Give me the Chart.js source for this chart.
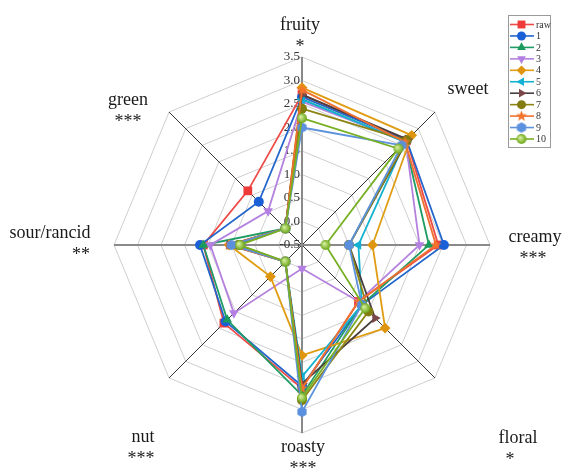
<!DOCTYPE html>
<html>
<head>
<meta charset="utf-8">
<script src="https://cdn.jsdelivr.net/npm/chart.js@4/dist/chart.umd.min.js"></script>
<style>
  html, body { margin: 0; padding: 0; background: #fff; }
  #wrap { width: 563px; height: 475px; position: relative; }
</style>
</head>
<body>
<div id="wrap"><canvas id="c" width="563" height="475"></canvas></div>
<script>
// Sensory attributes (radar axes) and their significance marks
const attributes = ['fruity', 'sweet', 'creamy', 'floral', 'roasty', 'nut', 'sour/rancid', 'green'];
const significance = ['*', '', '***', '*', '***', '***', '**', '***'];

// Sample names
const seriesNames = ['raw', '1', '2', '3', '4', '5', '6', '7', '8', '9', '10'];

// Intensity scores, one value per attribute in the order above
const raw = [2.70, 2.65, 2.40, 1.20, 2.55, 1.85, 1.60, 1.13];
const s1  = [2.65, 2.65, 2.52, 1.30, 2.50, 1.80, 1.67, 0.80];
const s2  = [2.60, 2.60, 2.20, 1.30, 2.70, 1.75, 1.60, 0.00];
const s3  = [2.55, 2.62, 2.00, 1.20, 0.00, 1.55, 1.45, 0.52];
const s4  = [2.85, 2.80, 1.00, 2.00, 1.85, 0.45, 1.05, 0.00];
const s5  = [2.60, 2.60, 0.70, 1.30, 2.30, 0.00, 0.95, 0.00];
const s6  = [2.70, 2.68, 0.50, 1.70, 2.45, 0.00, 1.05, 0.00];
const s7  = [2.40, 2.65, 0.50, 1.50, 2.80, 0.00, 0.85, 0.00];
const s8  = [2.80, 2.60, 2.35, 1.20, 2.55, 0.00, 1.05, 0.00];
const s9  = [2.00, 2.50, 0.50, 1.30, 3.05, 0.00, 1.00, 0.00];
const s10 = [2.20, 2.40, 0.00, 1.40, 2.75, 0.00, 0.82, 0.00];

// Radial axis range and tick labels
const scaleMin = -0.5;
const scaleMax = 3.5;
const tickLabels = ['-0.5', '0.0', '0.5', '1.0', '1.5', '2.0', '2.5', '3.0', '3.5'];

const seriesValues = [raw, s1, s2, s3, s4, s5, s6, s7, s8, s9, s10];

// ---- marker shapes drawn on small canvases ----
function shapeCanvas(draw, size) {
  const cv = document.createElement('canvas');
  cv.width = size; cv.height = size;
  const g = cv.getContext('2d');
  draw(g, size / 2);
  return cv;
}
function starMarker(color) {
  return shapeCanvas((g, c) => {
    g.beginPath();
    for (let k = 0; k < 10; k++) {
      const r = k % 2 ? 2.4 : 5.8;
      const a = -Math.PI / 2 + k * Math.PI / 5;
      g.lineTo(c + r * Math.cos(a), c + r * Math.sin(a));
    }
    g.closePath();
    g.fillStyle = color; g.fill();
  }, 13);
}
function hexMarker(color) {
  return shapeCanvas((g, c) => {
    g.beginPath();
    for (let k = 0; k < 6; k++) {
      const a = k * Math.PI / 3 + Math.PI / 6;
      g.lineTo(c + 5.3 * Math.cos(a), c + 5.3 * Math.sin(a));
    }
    g.closePath();
    g.fillStyle = color; g.fill();
  }, 12);
}
function ballMarker(color, light) {
  return shapeCanvas((g, c) => {
    const grad = g.createRadialGradient(c - 1.5, c - 1.5, 0.5, c, c, 5);
    grad.addColorStop(0, light);
    grad.addColorStop(1, color);
    g.beginPath(); g.arc(c, c, 4.9, 0, Math.PI * 2);
    g.fillStyle = grad; g.fill();
  }, 12);
}

// Line colour, marker colour, marker style, marker rotation per sample
const styles = [
  { line: '#ef4a45', mark: '#ef3a3a', style: 'rect', rot: 0, r: 6.2 },
  { line: '#2266cc', mark: '#1a5fd6', style: 'circle', rot: 0, r: 5 },
  { line: '#1f9c64', mark: '#1a9a5c', style: 'triangle', rot: 0, r: 5.6 },
  { line: '#b482de', mark: '#b47fe2', style: 'triangle', rot: 180, r: 5.6 },
  { line: '#e09c12', mark: '#e0950e', style: 'rectRot', rot: 0, r: 5.4 },
  { line: '#13b2cf', mark: '#12b0d2', style: 'triangle', rot: -90, r: 5.6 },
  { line: '#4a3d3d', mark: '#7a4848', style: 'triangle', rot: 90, r: 5.6 },
  { line: '#8c8414', mark: '#837c10', style: 'circle', rot: 0, r: 5 },
  { line: '#f07030', mark: starMarker('#f4742c'), style: null, rot: 0, r: 5 },
  { line: '#5c92dc', mark: hexMarker('#5a90dd'), style: null, rot: 0, r: 5 },
  { line: '#78b024', mark: ballMarker('#68a414', '#d8f0a0'), style: null, rot: 0, r: 5 }
];

const datasets = seriesValues.map((vals, i) => {
  const st = styles[i];
  const isImg = st.style === null;
  return {
    label: seriesNames[i],
    data: vals,
    order: seriesValues.length - i,   // later samples are drawn on top
    borderColor: st.line,
    backgroundColor: isImg ? st.line : st.mark,
    borderWidth: 1.8,
    pointStyle: isImg ? st.mark : st.style,
    pointRotation: st.rot,
    pointRadius: st.r,
    pointHoverRadius: st.r,
    pointBorderWidth: 0,
    pointBackgroundColor: isImg ? st.line : st.mark,
    fill: false
  };
});

const serif = '"Liberation Serif", "DejaVu Serif", serif';

// Tick values along the vertical axis, drawn to its left
const tickPlugin = {
  id: 'sideTicks',
  beforeDatasetsDraw(chart) {
    const sc = chart.scales.r;
    const ctx = chart.ctx;
    ctx.save();
    ctx.font = '13px ' + serif;
    ctx.fillStyle = '#333';
    ctx.textAlign = 'right';
    ctx.textBaseline = 'middle';
    tickLabels.forEach(t => {
      const v = parseFloat(t);
      const d = sc.getDistanceFromCenterForValue(v);
      ctx.fillText(t, sc.xCenter - 2, sc.yCenter - d);
    });
    ctx.restore();
  }
};

// Attribute names with significance marks; offsets are relative to each outer vertex
const labelLayout = [
  { dx: -2, dy: -32, starAlign: 'center', sdx: 0 },
  { dx: 33, dy: -23, starAlign: 'center', sdx: 0 },
  { dx: 45, dy: -8, starAlign: 'center', sdx: -2 },
  { dx: 83, dy: 60, starAlign: 'center', sdx: -8 },
  { dx: 1, dy: 14, starAlign: 'center', sdx: 0 },
  { dx: -26, dy: 59, starAlign: 'center', sdx: -2 },
  { dx: -64, dy: -12, starAlign: 'right', sdx: 40 },
  { dx: -41, dy: -12, starAlign: 'center', sdx: 0 }
];
const labelPlugin = {
  id: 'axisTitles',
  afterDraw(chart) {
    const sc = chart.scales.r;
    const ctx = chart.ctx;
    const R = sc.drawingArea;
    ctx.save();
    ctx.font = '18px ' + serif;
    ctx.fillStyle = '#1a1a1a';
    ctx.textBaseline = 'middle';
    attributes.forEach((name, i) => {
      const p = sc.getPointPosition(i, R);
      const L = labelLayout[i];
      const x = p.x + L.dx, y = p.y + L.dy;
      ctx.textAlign = 'center';
      ctx.fillText(name, x, y);
      if (significance[i]) {
        ctx.textAlign = L.starAlign;
        ctx.fillText(significance[i], x + L.sdx, y + 22);
      }
    });
    ctx.restore();
  }
};

// Boxed legend with line-and-marker swatches
const legendPlugin = {
  id: 'boxLegend',
  afterDraw(chart) {
    const ctx = chart.ctx;
    const left = 508, top = 15, w = 42, h = 132;
    ctx.save();
    ctx.strokeStyle = '#9a9a9a';
    ctx.lineWidth = 1;
    ctx.strokeRect(left + 0.5, top + 0.5, w, h);
    ctx.font = '10px ' + serif;
    ctx.textBaseline = 'middle';
    ctx.textAlign = 'left';
    chart.data.datasets.forEach((ds, i) => {
      const y = 24.5 + i * 11.45;
      ctx.strokeStyle = ds.borderColor;
      ctx.lineWidth = 1.6;
      ctx.beginPath();
      ctx.moveTo(left + 2, y); ctx.lineTo(left + 26, y);
      ctx.stroke();
      ctx.fillStyle = ds.pointBackgroundColor;
      ctx.strokeStyle = ds.pointBackgroundColor;
      Chart.helpers.drawPoint(ctx, {
        pointStyle: ds.pointStyle,
        rotation: ds.pointRotation,
        radius: ds.pointRadius * 0.9,
        borderWidth: 0
      }, left + 13.5, y);
      ctx.fillStyle = '#333';
      ctx.fillText(ds.label, left + 28, y + 0.5);
    });
    ctx.restore();
  }
};

new Chart(document.getElementById('c'), {
  type: 'radar',
  data: { labels: attributes, datasets },
  options: {
    responsive: false,
    devicePixelRatio: 1,
    animation: false,
    layout: { padding: { left: 114, right: 73, top: 57, bottom: 42 } },
    plugins: { legend: { display: false }, tooltip: { enabled: false } },
    elements: { line: { tension: 0 } },
    scales: {
      r: {
        min: scaleMin,
        max: scaleMax,
        ticks: { stepSize: 0.5, display: false },
        grid: { color: '#cfcfcf', lineWidth: 1 },
        angleLines: {
          display: true,
          color: ctx => (ctx.index % 2 ? '#333333' : '#8a8a8a'),
          lineWidth: ctx => (ctx.index % 2 ? 1 : 2)
        },
        pointLabels: { display: false }
      }
    }
  },
  plugins: [tickPlugin, labelPlugin, legendPlugin]
});
</script>
</body>
</html>
